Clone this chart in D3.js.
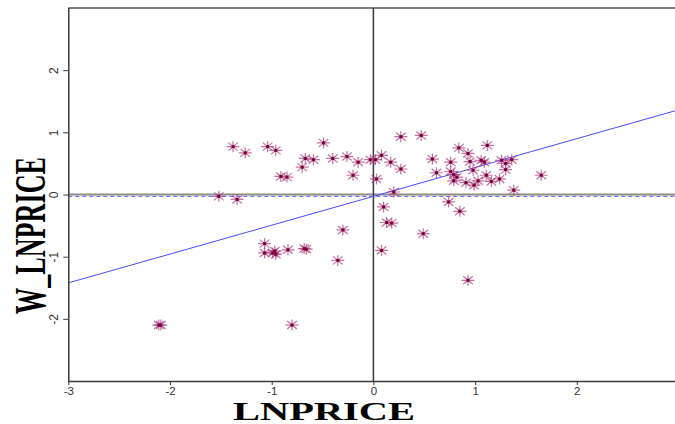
<!DOCTYPE html>
<html>
<head>
<meta charset="utf-8">
<script src="https://cdn.jsdelivr.net/npm/d3@7"></script>
<style>
  html, body { margin: 0; padding: 0; background: #fff; overflow: hidden; }
  svg { display: block; }
</style>
</head>
<body>
<svg id="chart" width="675" height="424"></svg>
<script>
// ---- data ----
const lnprice = [
  -2.11, -2.09, -1.52, -1.34, -1.38, -1.26, -1.04, -0.96, -0.91, -0.85,
  -0.70, -0.67, -0.59, -0.49, -0.40, -0.26, -0.15, -0.20, -0.03, 0.02,
  0.03, -1.07, -1.07, -0.97, -0.96, -0.99, -0.84, -0.66, -0.68, -0.80,
  -0.30, -0.35,
  0.08, 0.17, 0.27, 0.20, 0.27, 0.47, 0.58, 0.62, 0.76, 0.84,
  0.93, 1.12, 0.95, 1.06, 1.09, 0.98, 0.76, 0.79, 0.82, 0.79,
  0.91, 0.99, 1.03, 1.11, 1.16, 1.24, 1.26, 1.30, 1.36, 1.30,
  1.65, 1.38, 0.74, 0.85, 0.10, 0.13, 0.18, 0.49, 0.08, 0.93
];
const wLnprice = [
  -2.10, -2.10, -0.03, -0.08, 0.77, 0.67, 0.77, 0.71, 0.29, 0.28,
  0.44, 0.58, 0.56, 0.83, 0.58, 0.61, 0.52, 0.31, 0.56, 0.56,
  0.25, -0.79, -0.94, -0.91, -0.96, -0.94, -0.89, -0.88, -0.87, -2.10,
  -0.57, -1.06,
  0.63, 0.52, 0.41, 0.04, 0.93, 0.95, 0.57, 0.35, 0.52, 0.75,
  0.66, 0.79, 0.53, 0.55, 0.52, 0.39, 0.37, 0.32, 0.28, 0.22,
  0.19, 0.15, 0.22, 0.31, 0.21, 0.25, 0.55, 0.50, 0.56, 0.40,
  0.31, 0.07, -0.12, -0.27, -0.20, -0.45, -0.46, -0.63, -0.90, -1.38
];
const xTicks = [-3, -2, -1, 0, 1, 2];
const yTicks = [-2, -1, 0, 1, 2];
const xDomain = [-3, 3];
const yDomain = [-3, 3];
const fitIntercept = -0.03;
const fitSlope = 0.464;
const meanW = -0.03;
const xTitle = "LNPRICE";
const yTitle = "W_LNPRICE";

// ---- layout ----
const svg = d3.select("#chart");
const mLeft = 68.3, mRight = 678.5, mTop = 8, mBottom = 381;
const x = d3.scaleLinear().domain(xDomain).range([mLeft, mRight]);
const y = d3.scaleLinear().domain(yDomain).range([mBottom, mTop]);

const axisColor = "#3a3a3a";

// top border
svg.append("line").attr("x1", mLeft).attr("x2", 675).attr("y1", y(yDomain[1])).attr("y2", y(yDomain[1]))
  .attr("stroke", "#555").attr("stroke-width", 1.5);

// zero horizontal line (grey, thick)
svg.append("line").attr("x1", mLeft).attr("x2", 675).attr("y1", y(0)).attr("y2", y(0))
  .attr("stroke", "#8c8c8c").attr("stroke-width", 2);

// dashed mean line
svg.append("line").attr("x1", mLeft).attr("x2", 675).attr("y1", y(meanW)).attr("y2", y(meanW))
  .attr("stroke", "#5a5aff").attr("stroke-width", 1).attr("stroke-dasharray", "4,3");

// vertical zero line
svg.append("line").attr("x1", x(0)).attr("x2", x(0)).attr("y1", mTop).attr("y2", mBottom)
  .attr("stroke", "#3a3a3a").attr("stroke-width", 1.5);

// regression line
svg.append("line")
  .attr("x1", x(xDomain[0])).attr("y1", y(fitIntercept + fitSlope * xDomain[0]))
  .attr("x2", x(xDomain[1])).attr("y2", y(fitIntercept + fitSlope * xDomain[1]))
  .attr("stroke", "#4b4bff").attr("stroke-width", 1);

// x axis
const xAxis = d3.axisBottom(x).tickValues(xTicks).tickSize(4).tickSizeOuter(0)
  .tickFormat(d => d < 0 ? "-" + Math.abs(d) : String(d));
const gx = svg.append("g").attr("transform", `translate(0,${mBottom})`).call(xAxis);
gx.select(".domain").attr("stroke", axisColor).attr("stroke-width", 1.5)
  .attr("d", `M${mLeft},0.5H675`);
gx.selectAll(".tick line").attr("stroke", axisColor).attr("stroke-width", 1);
gx.selectAll(".tick text").attr("font-family", "Liberation Sans, Arial, sans-serif")
  .attr("font-size", 11.5).attr("fill", "#333").attr("dy", null).attr("y", 14);

// y axis
const yAxis = d3.axisLeft(y).tickValues(yTicks).tickSize(5).tickSizeOuter(0)
  .tickFormat(d => d < 0 ? "-" + Math.abs(d) : String(d));
const gy = svg.append("g").attr("transform", `translate(${mLeft},0)`).call(yAxis);
gy.select(".domain").attr("stroke", axisColor).attr("stroke-width", 1.5)
  .attr("d", `M0.5,${mTop}V${mBottom}`);
gy.selectAll(".tick line").attr("stroke", axisColor).attr("stroke-width", 1);
gy.selectAll(".tick text")
  .attr("font-family", "Liberation Sans, Arial, sans-serif")
  .attr("font-size", 12).attr("fill", "#333")
  .attr("x", null).attr("dy", null)
  .attr("text-anchor", "middle")
  .attr("transform", "translate(-10,0) rotate(-90)")
  .attr("y", 0);

// points (8-spoke asterisks)
const pts = lnprice.map((v, i) => [v, wLnprice[i]]);
const star = "M-6.5,0H6.5M0,-5.5V5.5M-4.8,-4L4.8,4M-4.8,4L4.8,-4";
const gp = svg.append("g");
gp.selectAll("path.star").data(pts).join("path")
  .attr("class", "star")
  .attr("transform", d => `translate(${x(d[0])},${y(d[1])})`)
  .attr("d", star)
  .attr("fill", "none")
  .attr("stroke", "#a8387a").attr("stroke-opacity", 0.7).attr("stroke-width", 1.2);
gp.selectAll("rect.core").data(pts).join("rect")
  .attr("class", "core")
  .attr("x", d => x(d[0]) - 1.5).attr("y", d => y(d[1]) - 1.5)
  .attr("width", 3).attr("height", 3)
  .attr("fill", "#7a0039");

// titles
svg.append("text")
  .attr("x", 324).attr("y", 419.5)
  .attr("text-anchor", "middle")
  .attr("font-family", "Liberation Serif, Times New Roman, serif")
  .attr("font-weight", "bold").attr("font-size", 25.5)
  .attr("textLength", 182).attr("lengthAdjust", "spacingAndGlyphs")
  .attr("fill", "#000")
  .text(xTitle);

svg.append("text")
  .attr("transform", "translate(45,235.5) rotate(-90)")
  .attr("text-anchor", "middle")
  .attr("font-family", "Liberation Serif, Times New Roman, serif")
  .attr("font-weight", "bold").attr("font-size", 45)
  .attr("textLength", 157).attr("lengthAdjust", "spacingAndGlyphs")
  .attr("fill", "#000")
  .text(yTitle);
</script>
</body>
</html>
